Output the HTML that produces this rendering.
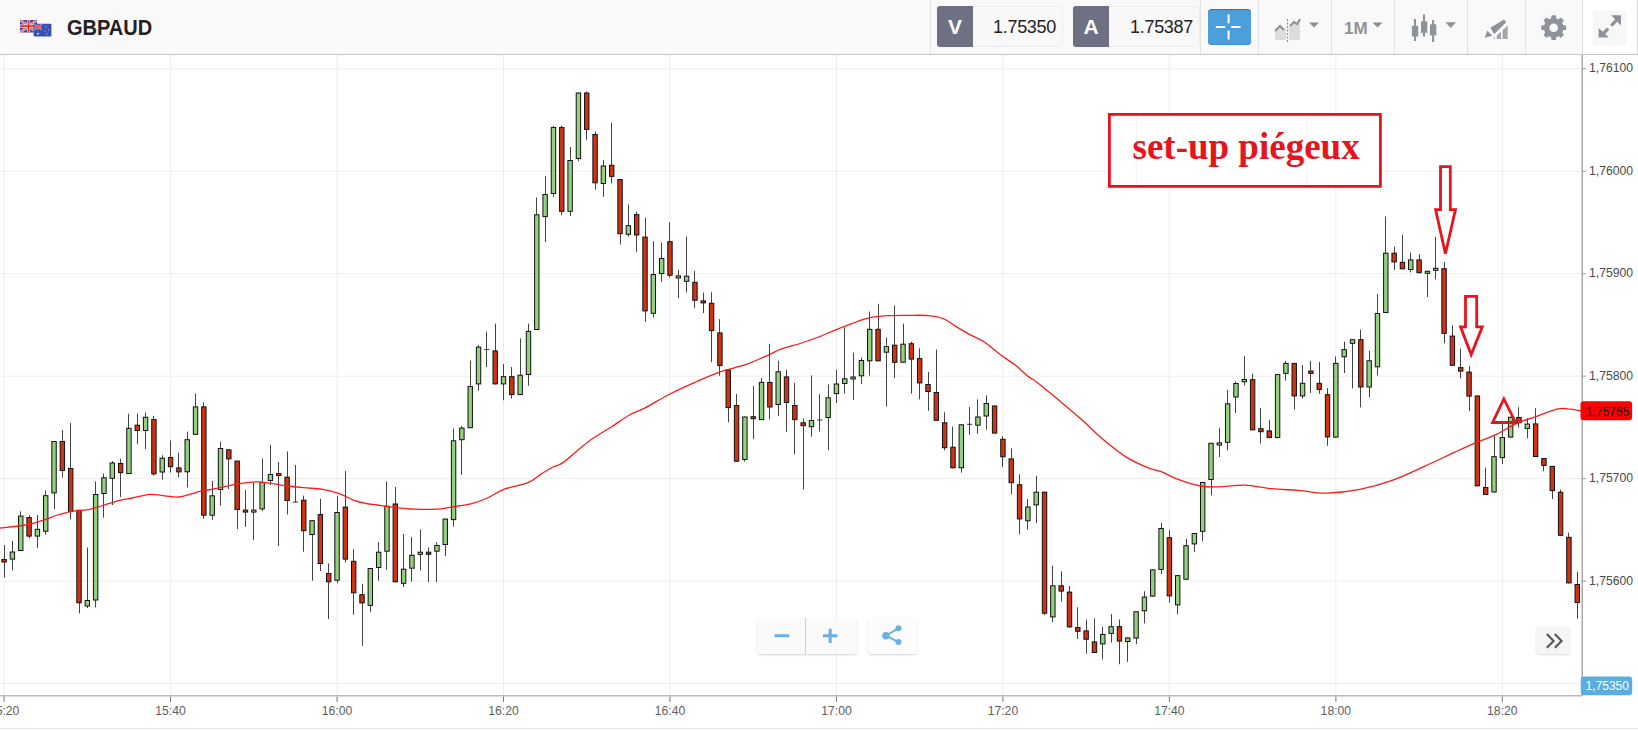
<!DOCTYPE html>
<html><head><meta charset="utf-8"><style>
html,body{margin:0;padding:0;width:1638px;height:730px;overflow:hidden;background:#fff;font-family:"Liberation Sans",sans-serif;}
#hdr{position:absolute;left:0;top:0;width:1638px;height:54px;background:#f9f9f9;border-bottom:1px solid #c6c6c6;}
.abs{position:absolute;}
.sep{position:absolute;top:0;width:1px;height:54px;background:#e2e2e2;}
#chart{position:absolute;left:0;top:0;}
.pbox{position:absolute;top:6px;height:41px;border:1px solid #ececec;border-radius:3px;background:#f8f8f8;box-sizing:border-box;}
.plet{position:absolute;left:-1px;top:-1px;width:36px;height:41px;background:#6e7184;border-radius:3px 0 0 3px;color:#fff;font-weight:bold;font-size:21px;line-height:42px;text-align:center;}
.pval{position:absolute;right:6px;top:0;line-height:40px;font-size:18px;color:#222;letter-spacing:-0.3px;}
</style></head><body>
<svg id="chart" width="1638" height="730" viewBox="0 0 1638 730" font-family="Liberation Sans, sans-serif">
<line x1="4.10" y1="55" x2="4.10" y2="695" stroke="#ededed" stroke-width="1"/>
<line x1="170.57" y1="55" x2="170.57" y2="695" stroke="#ededed" stroke-width="1"/>
<line x1="337.04" y1="55" x2="337.04" y2="695" stroke="#ededed" stroke-width="1"/>
<line x1="503.51" y1="55" x2="503.51" y2="695" stroke="#ededed" stroke-width="1"/>
<line x1="669.98" y1="55" x2="669.98" y2="695" stroke="#ededed" stroke-width="1"/>
<line x1="836.45" y1="55" x2="836.45" y2="695" stroke="#ededed" stroke-width="1"/>
<line x1="1002.92" y1="55" x2="1002.92" y2="695" stroke="#ededed" stroke-width="1"/>
<line x1="1169.39" y1="55" x2="1169.39" y2="695" stroke="#ededed" stroke-width="1"/>
<line x1="1335.86" y1="55" x2="1335.86" y2="695" stroke="#ededed" stroke-width="1"/>
<line x1="1502.33" y1="55" x2="1502.33" y2="695" stroke="#ededed" stroke-width="1"/>
<line x1="0" y1="68.80" x2="1582" y2="68.80" stroke="#ededed" stroke-width="1"/>
<line x1="0" y1="171.25" x2="1582" y2="171.25" stroke="#ededed" stroke-width="1"/>
<line x1="0" y1="273.70" x2="1582" y2="273.70" stroke="#ededed" stroke-width="1"/>
<line x1="0" y1="376.15" x2="1582" y2="376.15" stroke="#ededed" stroke-width="1"/>
<line x1="0" y1="478.60" x2="1582" y2="478.60" stroke="#ededed" stroke-width="1"/>
<line x1="0" y1="581.05" x2="1582" y2="581.05" stroke="#ededed" stroke-width="1"/>
<line x1="0" y1="683.50" x2="1582" y2="683.50" stroke="#ededed" stroke-width="1"/>
<line x1="4.50" y1="545.2" x2="4.50" y2="577.7" stroke="#444" stroke-width="1"/>
<rect x="1.90" y="559.5" width="4.4" height="2.5" fill="#cf3312" stroke="#111" stroke-width="1"/>
<line x1="12.50" y1="540.9" x2="12.50" y2="570.5" stroke="#444" stroke-width="1"/>
<rect x="10.22" y="552.0" width="4.4" height="7.1" fill="#93d17f" stroke="#111" stroke-width="1"/>
<line x1="20.50" y1="511.3" x2="20.50" y2="551.0" stroke="#444" stroke-width="1"/>
<rect x="18.55" y="516.1" width="4.4" height="34.4" fill="#93d17f" stroke="#111" stroke-width="1"/>
<line x1="29.50" y1="515.3" x2="29.50" y2="538.3" stroke="#444" stroke-width="1"/>
<rect x="26.87" y="517.5" width="4.4" height="18.6" fill="#cf3312" stroke="#111" stroke-width="1"/>
<line x1="37.50" y1="515.0" x2="37.50" y2="548.0" stroke="#444" stroke-width="1"/>
<rect x="35.19" y="529.3" width="4.4" height="6.8" fill="#93d17f" stroke="#111" stroke-width="1"/>
<line x1="45.50" y1="490.3" x2="45.50" y2="534.6" stroke="#444" stroke-width="1"/>
<rect x="43.52" y="495.7" width="4.4" height="35.5" fill="#93d17f" stroke="#111" stroke-width="1"/>
<line x1="54.50" y1="441.0" x2="54.50" y2="509.3" stroke="#444" stroke-width="1"/>
<rect x="51.84" y="441.5" width="4.4" height="51.4" fill="#93d17f" stroke="#111" stroke-width="1"/>
<line x1="62.50" y1="430.0" x2="62.50" y2="477.6" stroke="#444" stroke-width="1"/>
<rect x="60.16" y="441.5" width="4.4" height="29.0" fill="#cf3312" stroke="#111" stroke-width="1"/>
<line x1="70.50" y1="423.0" x2="70.50" y2="519.3" stroke="#444" stroke-width="1"/>
<rect x="68.49" y="468.5" width="4.4" height="43.0" fill="#cf3312" stroke="#111" stroke-width="1"/>
<line x1="79.50" y1="510.0" x2="79.50" y2="613.4" stroke="#444" stroke-width="1"/>
<rect x="76.81" y="510.3" width="4.4" height="92.5" fill="#cf3312" stroke="#111" stroke-width="1"/>
<line x1="87.50" y1="547.5" x2="87.50" y2="608.0" stroke="#444" stroke-width="1"/>
<rect x="85.13" y="600.5" width="4.4" height="5.5" fill="#93d17f" stroke="#111" stroke-width="1"/>
<line x1="95.50" y1="481.4" x2="95.50" y2="607.4" stroke="#444" stroke-width="1"/>
<rect x="93.46" y="494.5" width="4.4" height="105.5" fill="#93d17f" stroke="#111" stroke-width="1"/>
<line x1="103.50" y1="473.5" x2="103.50" y2="517.6" stroke="#444" stroke-width="1"/>
<rect x="101.78" y="477.8" width="4.4" height="15.7" fill="#93d17f" stroke="#111" stroke-width="1"/>
<line x1="112.50" y1="461.0" x2="112.50" y2="505.0" stroke="#444" stroke-width="1"/>
<rect x="110.11" y="463.0" width="4.4" height="15.3" fill="#93d17f" stroke="#111" stroke-width="1"/>
<line x1="120.50" y1="458.7" x2="120.50" y2="497.0" stroke="#444" stroke-width="1"/>
<rect x="118.43" y="463.5" width="4.4" height="9.2" fill="#cf3312" stroke="#111" stroke-width="1"/>
<line x1="128.50" y1="413.6" x2="128.50" y2="474.0" stroke="#444" stroke-width="1"/>
<rect x="126.75" y="428.3" width="4.4" height="45.2" fill="#93d17f" stroke="#111" stroke-width="1"/>
<line x1="137.50" y1="413.6" x2="137.50" y2="444.2" stroke="#444" stroke-width="1"/>
<rect x="135.08" y="425.2" width="4.4" height="5.3" fill="#cf3312" stroke="#111" stroke-width="1"/>
<line x1="145.50" y1="412.7" x2="145.50" y2="449.0" stroke="#444" stroke-width="1"/>
<rect x="143.40" y="417.3" width="4.4" height="13.2" fill="#93d17f" stroke="#111" stroke-width="1"/>
<line x1="153.50" y1="415.8" x2="153.50" y2="475.7" stroke="#444" stroke-width="1"/>
<rect x="151.72" y="419.5" width="4.4" height="54.4" fill="#cf3312" stroke="#111" stroke-width="1"/>
<line x1="162.50" y1="455.2" x2="162.50" y2="479.8" stroke="#444" stroke-width="1"/>
<rect x="160.05" y="458.2" width="4.4" height="13.8" fill="#93d17f" stroke="#111" stroke-width="1"/>
<line x1="170.50" y1="440.4" x2="170.50" y2="472.5" stroke="#444" stroke-width="1"/>
<rect x="168.37" y="457.5" width="4.4" height="9.2" fill="#cf3312" stroke="#111" stroke-width="1"/>
<line x1="178.50" y1="452.8" x2="178.50" y2="477.3" stroke="#444" stroke-width="1"/>
<rect x="176.69" y="467.9" width="4.4" height="4.0" fill="#cf3312" stroke="#111" stroke-width="1"/>
<line x1="187.50" y1="431.6" x2="187.50" y2="487.4" stroke="#444" stroke-width="1"/>
<rect x="185.02" y="439.7" width="4.4" height="32.1" fill="#93d17f" stroke="#111" stroke-width="1"/>
<line x1="195.50" y1="393.5" x2="195.50" y2="434.8" stroke="#444" stroke-width="1"/>
<rect x="193.34" y="406.9" width="4.4" height="27.4" fill="#93d17f" stroke="#111" stroke-width="1"/>
<line x1="203.50" y1="402.3" x2="203.50" y2="518.9" stroke="#444" stroke-width="1"/>
<rect x="201.66" y="406.9" width="4.4" height="108.3" fill="#cf3312" stroke="#111" stroke-width="1"/>
<line x1="212.50" y1="481.0" x2="212.50" y2="519.8" stroke="#444" stroke-width="1"/>
<rect x="209.99" y="495.8" width="4.4" height="19.4" fill="#93d17f" stroke="#111" stroke-width="1"/>
<line x1="220.50" y1="441.7" x2="220.50" y2="505.7" stroke="#444" stroke-width="1"/>
<rect x="218.31" y="448.5" width="4.4" height="41.0" fill="#93d17f" stroke="#111" stroke-width="1"/>
<line x1="228.50" y1="449.3" x2="228.50" y2="489.0" stroke="#444" stroke-width="1"/>
<rect x="226.63" y="449.8" width="4.4" height="9.1" fill="#cf3312" stroke="#111" stroke-width="1"/>
<line x1="237.50" y1="460.6" x2="237.50" y2="529.0" stroke="#444" stroke-width="1"/>
<rect x="234.96" y="461.1" width="4.4" height="48.4" fill="#cf3312" stroke="#111" stroke-width="1"/>
<line x1="245.50" y1="490.0" x2="245.50" y2="526.8" stroke="#444" stroke-width="1"/>
<rect x="243.28" y="510.1" width="4.4" height="2.0" fill="#cf3312" stroke="#111" stroke-width="1"/>
<line x1="253.50" y1="482.7" x2="253.50" y2="540.0" stroke="#444" stroke-width="1"/>
<rect x="251.60" y="510.1" width="4.4" height="2.0" fill="#93d17f" stroke="#111" stroke-width="1"/>
<line x1="262.50" y1="458.4" x2="262.50" y2="511.0" stroke="#444" stroke-width="1"/>
<rect x="259.93" y="482.5" width="4.4" height="26.4" fill="#93d17f" stroke="#111" stroke-width="1"/>
<line x1="270.50" y1="445.0" x2="270.50" y2="485.0" stroke="#444" stroke-width="1"/>
<rect x="268.25" y="474.5" width="4.4" height="6.0" fill="#93d17f" stroke="#111" stroke-width="1"/>
<line x1="278.50" y1="462.0" x2="278.50" y2="546.0" stroke="#444" stroke-width="1"/>
<rect x="276.58" y="473.5" width="4.4" height="2.0" fill="#cf3312" stroke="#111" stroke-width="1"/>
<line x1="287.50" y1="451.5" x2="287.50" y2="514.5" stroke="#444" stroke-width="1"/>
<rect x="284.90" y="477.2" width="4.4" height="23.3" fill="#cf3312" stroke="#111" stroke-width="1"/>
<line x1="295.50" y1="465.0" x2="295.50" y2="502.5" stroke="#444" stroke-width="1"/>
<line x1="292.92" y1="502.0" x2="297.92" y2="502.0" stroke="#333" stroke-width="1"/>
<line x1="303.50" y1="495.6" x2="303.50" y2="551.7" stroke="#444" stroke-width="1"/>
<rect x="301.55" y="500.2" width="4.4" height="30.5" fill="#cf3312" stroke="#111" stroke-width="1"/>
<line x1="312.50" y1="520.2" x2="312.50" y2="580.7" stroke="#444" stroke-width="1"/>
<rect x="309.87" y="520.7" width="4.4" height="13.8" fill="#93d17f" stroke="#111" stroke-width="1"/>
<line x1="320.50" y1="498.8" x2="320.50" y2="571.2" stroke="#444" stroke-width="1"/>
<rect x="318.19" y="514.5" width="4.4" height="49.0" fill="#cf3312" stroke="#111" stroke-width="1"/>
<line x1="328.50" y1="563.4" x2="328.50" y2="619.0" stroke="#444" stroke-width="1"/>
<rect x="326.52" y="573.5" width="4.4" height="8.3" fill="#cf3312" stroke="#111" stroke-width="1"/>
<line x1="337.50" y1="495.6" x2="337.50" y2="583.2" stroke="#444" stroke-width="1"/>
<rect x="334.84" y="512.5" width="4.4" height="67.7" fill="#93d17f" stroke="#111" stroke-width="1"/>
<line x1="345.50" y1="471.0" x2="345.50" y2="562.4" stroke="#444" stroke-width="1"/>
<rect x="343.16" y="507.1" width="4.4" height="52.0" fill="#cf3312" stroke="#111" stroke-width="1"/>
<line x1="353.50" y1="549.2" x2="353.50" y2="614.7" stroke="#444" stroke-width="1"/>
<rect x="351.49" y="561.3" width="4.4" height="31.5" fill="#cf3312" stroke="#111" stroke-width="1"/>
<line x1="362.50" y1="583.8" x2="362.50" y2="645.8" stroke="#444" stroke-width="1"/>
<rect x="359.81" y="594.7" width="4.4" height="8.2" fill="#cf3312" stroke="#111" stroke-width="1"/>
<line x1="370.50" y1="568.0" x2="370.50" y2="612.2" stroke="#444" stroke-width="1"/>
<rect x="368.13" y="568.5" width="4.4" height="36.9" fill="#93d17f" stroke="#111" stroke-width="1"/>
<line x1="378.50" y1="542.0" x2="378.50" y2="580.7" stroke="#444" stroke-width="1"/>
<rect x="376.46" y="552.2" width="4.4" height="15.3" fill="#93d17f" stroke="#111" stroke-width="1"/>
<line x1="386.50" y1="481.4" x2="386.50" y2="569.7" stroke="#444" stroke-width="1"/>
<rect x="384.78" y="506.2" width="4.4" height="45.0" fill="#93d17f" stroke="#111" stroke-width="1"/>
<line x1="395.50" y1="487.0" x2="395.50" y2="582.3" stroke="#444" stroke-width="1"/>
<rect x="393.10" y="504.0" width="4.4" height="77.8" fill="#cf3312" stroke="#111" stroke-width="1"/>
<line x1="403.50" y1="534.0" x2="403.50" y2="587.0" stroke="#444" stroke-width="1"/>
<rect x="401.43" y="569.2" width="4.4" height="14.1" fill="#93d17f" stroke="#111" stroke-width="1"/>
<line x1="411.50" y1="537.2" x2="411.50" y2="581.6" stroke="#444" stroke-width="1"/>
<rect x="409.75" y="555.3" width="4.4" height="12.9" fill="#93d17f" stroke="#111" stroke-width="1"/>
<line x1="420.50" y1="529.3" x2="420.50" y2="570.6" stroke="#444" stroke-width="1"/>
<rect x="418.07" y="552.2" width="4.4" height="2.1" fill="#93d17f" stroke="#111" stroke-width="1"/>
<line x1="428.50" y1="547.6" x2="428.50" y2="582.3" stroke="#444" stroke-width="1"/>
<rect x="426.40" y="552.2" width="4.4" height="2.1" fill="#cf3312" stroke="#111" stroke-width="1"/>
<line x1="436.50" y1="542.2" x2="436.50" y2="582.3" stroke="#444" stroke-width="1"/>
<rect x="434.72" y="545.5" width="4.4" height="5.7" fill="#93d17f" stroke="#111" stroke-width="1"/>
<line x1="445.50" y1="518.6" x2="445.50" y2="556.1" stroke="#444" stroke-width="1"/>
<rect x="443.05" y="519.1" width="4.4" height="25.4" fill="#93d17f" stroke="#111" stroke-width="1"/>
<line x1="453.50" y1="428.5" x2="453.50" y2="526.6" stroke="#444" stroke-width="1"/>
<rect x="451.37" y="440.8" width="4.4" height="78.8" fill="#93d17f" stroke="#111" stroke-width="1"/>
<line x1="461.50" y1="426.0" x2="461.50" y2="474.9" stroke="#444" stroke-width="1"/>
<rect x="459.69" y="428.1" width="4.4" height="11.6" fill="#93d17f" stroke="#111" stroke-width="1"/>
<line x1="470.50" y1="360.8" x2="470.50" y2="428.2" stroke="#444" stroke-width="1"/>
<rect x="468.02" y="386.5" width="4.4" height="41.2" fill="#93d17f" stroke="#111" stroke-width="1"/>
<line x1="478.50" y1="345.0" x2="478.50" y2="390.7" stroke="#444" stroke-width="1"/>
<rect x="476.34" y="347.1" width="4.4" height="36.8" fill="#93d17f" stroke="#111" stroke-width="1"/>
<line x1="486.50" y1="331.5" x2="486.50" y2="367.0" stroke="#444" stroke-width="1"/>
<line x1="484.36" y1="349.5" x2="489.36" y2="349.5" stroke="#333" stroke-width="1"/>
<line x1="495.50" y1="323.6" x2="495.50" y2="384.4" stroke="#444" stroke-width="1"/>
<rect x="492.99" y="350.9" width="4.4" height="33.0" fill="#cf3312" stroke="#111" stroke-width="1"/>
<line x1="503.50" y1="364.0" x2="503.50" y2="400.2" stroke="#444" stroke-width="1"/>
<rect x="501.31" y="376.7" width="4.4" height="7.2" fill="#93d17f" stroke="#111" stroke-width="1"/>
<line x1="511.50" y1="367.1" x2="511.50" y2="398.6" stroke="#444" stroke-width="1"/>
<rect x="509.63" y="376.7" width="4.4" height="17.9" fill="#cf3312" stroke="#111" stroke-width="1"/>
<line x1="520.50" y1="338.4" x2="520.50" y2="395.1" stroke="#444" stroke-width="1"/>
<rect x="517.96" y="375.2" width="4.4" height="19.4" fill="#93d17f" stroke="#111" stroke-width="1"/>
<line x1="528.50" y1="323.6" x2="528.50" y2="385.7" stroke="#444" stroke-width="1"/>
<rect x="526.28" y="331.4" width="4.4" height="43.1" fill="#93d17f" stroke="#111" stroke-width="1"/>
<line x1="536.50" y1="197.5" x2="536.50" y2="330.0" stroke="#444" stroke-width="1"/>
<rect x="534.60" y="214.8" width="4.4" height="114.7" fill="#93d17f" stroke="#111" stroke-width="1"/>
<line x1="545.50" y1="176.2" x2="545.50" y2="242.0" stroke="#444" stroke-width="1"/>
<rect x="542.93" y="194.5" width="4.4" height="22.1" fill="#93d17f" stroke="#111" stroke-width="1"/>
<line x1="553.50" y1="125.6" x2="553.50" y2="196.8" stroke="#444" stroke-width="1"/>
<rect x="551.25" y="127.5" width="4.4" height="66.0" fill="#93d17f" stroke="#111" stroke-width="1"/>
<line x1="561.50" y1="125.6" x2="561.50" y2="215.3" stroke="#444" stroke-width="1"/>
<rect x="559.57" y="127.5" width="4.4" height="83.8" fill="#cf3312" stroke="#111" stroke-width="1"/>
<line x1="570.50" y1="147.0" x2="570.50" y2="216.0" stroke="#444" stroke-width="1"/>
<rect x="567.90" y="160.5" width="4.4" height="50.8" fill="#93d17f" stroke="#111" stroke-width="1"/>
<line x1="578.50" y1="92.5" x2="578.50" y2="161.2" stroke="#444" stroke-width="1"/>
<rect x="576.22" y="93.0" width="4.4" height="65.5" fill="#93d17f" stroke="#111" stroke-width="1"/>
<line x1="586.50" y1="91.4" x2="586.50" y2="139.8" stroke="#444" stroke-width="1"/>
<rect x="584.54" y="93.0" width="4.4" height="36.4" fill="#cf3312" stroke="#111" stroke-width="1"/>
<line x1="595.50" y1="131.6" x2="595.50" y2="189.7" stroke="#444" stroke-width="1"/>
<rect x="592.87" y="134.5" width="4.4" height="48.3" fill="#cf3312" stroke="#111" stroke-width="1"/>
<line x1="603.50" y1="160.1" x2="603.50" y2="196.8" stroke="#444" stroke-width="1"/>
<rect x="601.19" y="166.0" width="4.4" height="17.5" fill="#93d17f" stroke="#111" stroke-width="1"/>
<line x1="611.50" y1="122.7" x2="611.50" y2="183.3" stroke="#444" stroke-width="1"/>
<rect x="609.52" y="165.3" width="4.4" height="11.1" fill="#cf3312" stroke="#111" stroke-width="1"/>
<line x1="620.50" y1="179.0" x2="620.50" y2="244.5" stroke="#444" stroke-width="1"/>
<rect x="617.84" y="179.5" width="4.4" height="54.2" fill="#cf3312" stroke="#111" stroke-width="1"/>
<line x1="628.50" y1="204.5" x2="628.50" y2="236.6" stroke="#444" stroke-width="1"/>
<rect x="626.16" y="225.7" width="4.4" height="8.6" fill="#93d17f" stroke="#111" stroke-width="1"/>
<line x1="636.50" y1="211.6" x2="636.50" y2="251.9" stroke="#444" stroke-width="1"/>
<rect x="634.49" y="214.6" width="4.4" height="20.4" fill="#cf3312" stroke="#111" stroke-width="1"/>
<line x1="645.50" y1="217.7" x2="645.50" y2="322.0" stroke="#444" stroke-width="1"/>
<rect x="642.81" y="237.1" width="4.4" height="73.8" fill="#cf3312" stroke="#111" stroke-width="1"/>
<line x1="653.50" y1="241.2" x2="653.50" y2="317.4" stroke="#444" stroke-width="1"/>
<rect x="651.13" y="274.5" width="4.4" height="38.8" fill="#93d17f" stroke="#111" stroke-width="1"/>
<line x1="661.50" y1="242.6" x2="661.50" y2="281.8" stroke="#444" stroke-width="1"/>
<rect x="659.46" y="258.5" width="4.4" height="15.0" fill="#93d17f" stroke="#111" stroke-width="1"/>
<line x1="669.50" y1="222.3" x2="669.50" y2="277.5" stroke="#444" stroke-width="1"/>
<rect x="667.78" y="241.7" width="4.4" height="33.5" fill="#cf3312" stroke="#111" stroke-width="1"/>
<line x1="678.50" y1="269.7" x2="678.50" y2="298.2" stroke="#444" stroke-width="1"/>
<rect x="676.10" y="275.9" width="4.4" height="2.0" fill="#93d17f" stroke="#111" stroke-width="1"/>
<line x1="686.50" y1="236.6" x2="686.50" y2="292.5" stroke="#444" stroke-width="1"/>
<rect x="684.43" y="276.2" width="4.4" height="5.1" fill="#93d17f" stroke="#111" stroke-width="1"/>
<line x1="694.50" y1="271.1" x2="694.50" y2="307.8" stroke="#444" stroke-width="1"/>
<rect x="692.75" y="282.3" width="4.4" height="17.9" fill="#cf3312" stroke="#111" stroke-width="1"/>
<line x1="703.50" y1="292.5" x2="703.50" y2="313.1" stroke="#444" stroke-width="1"/>
<rect x="701.07" y="300.9" width="4.4" height="2.0" fill="#cf3312" stroke="#111" stroke-width="1"/>
<line x1="711.50" y1="292.2" x2="711.50" y2="362.2" stroke="#444" stroke-width="1"/>
<rect x="709.40" y="303.3" width="4.4" height="27.3" fill="#cf3312" stroke="#111" stroke-width="1"/>
<line x1="719.50" y1="319.2" x2="719.50" y2="375.8" stroke="#444" stroke-width="1"/>
<rect x="717.72" y="332.9" width="4.4" height="32.5" fill="#cf3312" stroke="#111" stroke-width="1"/>
<line x1="728.50" y1="369.5" x2="728.50" y2="422.3" stroke="#444" stroke-width="1"/>
<rect x="726.04" y="370.0" width="4.4" height="37.6" fill="#cf3312" stroke="#111" stroke-width="1"/>
<line x1="736.50" y1="394.0" x2="736.50" y2="461.7" stroke="#444" stroke-width="1"/>
<rect x="734.37" y="405.5" width="4.4" height="55.7" fill="#cf3312" stroke="#111" stroke-width="1"/>
<line x1="744.50" y1="416.5" x2="744.50" y2="461.7" stroke="#444" stroke-width="1"/>
<rect x="742.69" y="417.0" width="4.4" height="42.5" fill="#93d17f" stroke="#111" stroke-width="1"/>
<line x1="753.50" y1="386.0" x2="753.50" y2="439.0" stroke="#444" stroke-width="1"/>
<rect x="751.01" y="416.7" width="4.4" height="2.0" fill="#cf3312" stroke="#111" stroke-width="1"/>
<line x1="761.50" y1="378.0" x2="761.50" y2="420.1" stroke="#444" stroke-width="1"/>
<rect x="759.34" y="382.4" width="4.4" height="37.2" fill="#93d17f" stroke="#111" stroke-width="1"/>
<line x1="769.50" y1="343.9" x2="769.50" y2="419.2" stroke="#444" stroke-width="1"/>
<rect x="767.66" y="382.4" width="4.4" height="24.6" fill="#cf3312" stroke="#111" stroke-width="1"/>
<line x1="778.50" y1="360.8" x2="778.50" y2="416.2" stroke="#444" stroke-width="1"/>
<rect x="775.99" y="371.8" width="4.4" height="32.7" fill="#93d17f" stroke="#111" stroke-width="1"/>
<line x1="786.50" y1="369.8" x2="786.50" y2="432.0" stroke="#444" stroke-width="1"/>
<rect x="784.31" y="376.9" width="4.4" height="25.6" fill="#cf3312" stroke="#111" stroke-width="1"/>
<line x1="794.50" y1="383.0" x2="794.50" y2="454.2" stroke="#444" stroke-width="1"/>
<rect x="792.63" y="405.5" width="4.4" height="14.1" fill="#cf3312" stroke="#111" stroke-width="1"/>
<line x1="803.50" y1="418.5" x2="803.50" y2="489.5" stroke="#444" stroke-width="1"/>
<rect x="800.96" y="422.8" width="4.4" height="2.9" fill="#cf3312" stroke="#111" stroke-width="1"/>
<line x1="811.50" y1="375.4" x2="811.50" y2="436.7" stroke="#444" stroke-width="1"/>
<rect x="809.28" y="420.5" width="4.4" height="6.2" fill="#93d17f" stroke="#111" stroke-width="1"/>
<line x1="819.50" y1="394.1" x2="819.50" y2="431.5" stroke="#444" stroke-width="1"/>
<line x1="817.30" y1="420.0" x2="822.30" y2="420.0" stroke="#333" stroke-width="1"/>
<line x1="828.50" y1="384.4" x2="828.50" y2="450.2" stroke="#444" stroke-width="1"/>
<rect x="825.93" y="397.8" width="4.4" height="19.7" fill="#93d17f" stroke="#111" stroke-width="1"/>
<line x1="836.50" y1="369.7" x2="836.50" y2="403.0" stroke="#444" stroke-width="1"/>
<rect x="834.25" y="384.0" width="4.4" height="9.6" fill="#93d17f" stroke="#111" stroke-width="1"/>
<line x1="844.50" y1="327.4" x2="844.50" y2="393.6" stroke="#444" stroke-width="1"/>
<rect x="842.57" y="378.8" width="4.4" height="4.7" fill="#93d17f" stroke="#111" stroke-width="1"/>
<line x1="853.50" y1="352.7" x2="853.50" y2="400.0" stroke="#444" stroke-width="1"/>
<rect x="850.90" y="377.0" width="4.4" height="2.0" fill="#93d17f" stroke="#111" stroke-width="1"/>
<line x1="861.50" y1="357.6" x2="861.50" y2="384.0" stroke="#444" stroke-width="1"/>
<rect x="859.22" y="360.5" width="4.4" height="15.3" fill="#93d17f" stroke="#111" stroke-width="1"/>
<line x1="869.50" y1="311.6" x2="869.50" y2="375.7" stroke="#444" stroke-width="1"/>
<rect x="867.54" y="329.3" width="4.4" height="31.5" fill="#93d17f" stroke="#111" stroke-width="1"/>
<line x1="878.50" y1="303.8" x2="878.50" y2="361.3" stroke="#444" stroke-width="1"/>
<rect x="875.87" y="329.3" width="4.4" height="31.5" fill="#cf3312" stroke="#111" stroke-width="1"/>
<line x1="886.50" y1="337.5" x2="886.50" y2="406.5" stroke="#444" stroke-width="1"/>
<rect x="884.19" y="346.6" width="4.4" height="5.6" fill="#93d17f" stroke="#111" stroke-width="1"/>
<line x1="894.50" y1="305.5" x2="894.50" y2="378.0" stroke="#444" stroke-width="1"/>
<rect x="892.51" y="345.2" width="4.4" height="17.1" fill="#cf3312" stroke="#111" stroke-width="1"/>
<line x1="903.50" y1="323.6" x2="903.50" y2="362.7" stroke="#444" stroke-width="1"/>
<rect x="900.84" y="344.2" width="4.4" height="18.0" fill="#93d17f" stroke="#111" stroke-width="1"/>
<line x1="911.50" y1="341.7" x2="911.50" y2="393.5" stroke="#444" stroke-width="1"/>
<rect x="909.16" y="343.7" width="4.4" height="15.4" fill="#cf3312" stroke="#111" stroke-width="1"/>
<line x1="919.50" y1="348.3" x2="919.50" y2="399.3" stroke="#444" stroke-width="1"/>
<rect x="917.48" y="358.6" width="4.4" height="24.3" fill="#cf3312" stroke="#111" stroke-width="1"/>
<line x1="928.50" y1="372.0" x2="928.50" y2="410.8" stroke="#444" stroke-width="1"/>
<rect x="925.81" y="384.5" width="4.4" height="7.0" fill="#cf3312" stroke="#111" stroke-width="1"/>
<line x1="936.50" y1="349.5" x2="936.50" y2="420.8" stroke="#444" stroke-width="1"/>
<rect x="934.13" y="392.5" width="4.4" height="27.8" fill="#cf3312" stroke="#111" stroke-width="1"/>
<line x1="944.50" y1="412.2" x2="944.50" y2="450.2" stroke="#444" stroke-width="1"/>
<rect x="942.46" y="422.8" width="4.4" height="24.9" fill="#cf3312" stroke="#111" stroke-width="1"/>
<line x1="952.50" y1="426.6" x2="952.50" y2="468.3" stroke="#444" stroke-width="1"/>
<rect x="950.78" y="447.2" width="4.4" height="20.6" fill="#cf3312" stroke="#111" stroke-width="1"/>
<line x1="961.50" y1="424.3" x2="961.50" y2="472.6" stroke="#444" stroke-width="1"/>
<rect x="959.10" y="424.8" width="4.4" height="43.0" fill="#93d17f" stroke="#111" stroke-width="1"/>
<line x1="969.50" y1="407.0" x2="969.50" y2="434.6" stroke="#444" stroke-width="1"/>
<line x1="967.13" y1="424.3" x2="972.13" y2="424.3" stroke="#333" stroke-width="1"/>
<line x1="977.50" y1="399.3" x2="977.50" y2="433.8" stroke="#444" stroke-width="1"/>
<rect x="975.75" y="417.0" width="4.4" height="8.2" fill="#93d17f" stroke="#111" stroke-width="1"/>
<line x1="986.50" y1="395.2" x2="986.50" y2="429.7" stroke="#444" stroke-width="1"/>
<rect x="984.07" y="403.5" width="4.4" height="12.5" fill="#93d17f" stroke="#111" stroke-width="1"/>
<line x1="994.50" y1="405.5" x2="994.50" y2="433.6" stroke="#444" stroke-width="1"/>
<rect x="992.40" y="406.0" width="4.4" height="27.1" fill="#cf3312" stroke="#111" stroke-width="1"/>
<line x1="1002.50" y1="436.2" x2="1002.50" y2="467.0" stroke="#444" stroke-width="1"/>
<rect x="1000.72" y="439.3" width="4.4" height="17.5" fill="#cf3312" stroke="#111" stroke-width="1"/>
<line x1="1011.50" y1="448.4" x2="1011.50" y2="494.3" stroke="#444" stroke-width="1"/>
<rect x="1009.04" y="458.9" width="4.4" height="23.8" fill="#cf3312" stroke="#111" stroke-width="1"/>
<line x1="1019.50" y1="474.3" x2="1019.50" y2="534.2" stroke="#444" stroke-width="1"/>
<rect x="1017.37" y="484.8" width="4.4" height="34.1" fill="#cf3312" stroke="#111" stroke-width="1"/>
<line x1="1027.50" y1="499.1" x2="1027.50" y2="529.8" stroke="#444" stroke-width="1"/>
<rect x="1025.69" y="507.0" width="4.4" height="13.8" fill="#93d17f" stroke="#111" stroke-width="1"/>
<line x1="1036.50" y1="475.8" x2="1036.50" y2="523.1" stroke="#444" stroke-width="1"/>
<rect x="1034.01" y="492.2" width="4.4" height="12.7" fill="#93d17f" stroke="#111" stroke-width="1"/>
<line x1="1044.50" y1="491.7" x2="1044.50" y2="614.9" stroke="#444" stroke-width="1"/>
<rect x="1042.34" y="492.2" width="4.4" height="121.0" fill="#cf3312" stroke="#111" stroke-width="1"/>
<line x1="1052.50" y1="565.7" x2="1052.50" y2="622.3" stroke="#444" stroke-width="1"/>
<rect x="1050.66" y="585.8" width="4.4" height="31.1" fill="#93d17f" stroke="#111" stroke-width="1"/>
<line x1="1061.50" y1="571.2" x2="1061.50" y2="601.5" stroke="#444" stroke-width="1"/>
<rect x="1058.98" y="585.8" width="4.4" height="5.3" fill="#cf3312" stroke="#111" stroke-width="1"/>
<line x1="1069.50" y1="586.0" x2="1069.50" y2="627.6" stroke="#444" stroke-width="1"/>
<rect x="1067.31" y="592.1" width="4.4" height="34.8" fill="#cf3312" stroke="#111" stroke-width="1"/>
<line x1="1077.50" y1="607.2" x2="1077.50" y2="639.0" stroke="#444" stroke-width="1"/>
<rect x="1075.63" y="627.5" width="4.4" height="3.8" fill="#cf3312" stroke="#111" stroke-width="1"/>
<line x1="1086.50" y1="619.5" x2="1086.50" y2="653.7" stroke="#444" stroke-width="1"/>
<rect x="1083.95" y="630.9" width="4.4" height="8.3" fill="#cf3312" stroke="#111" stroke-width="1"/>
<line x1="1094.50" y1="618.3" x2="1094.50" y2="653.0" stroke="#444" stroke-width="1"/>
<rect x="1092.28" y="641.9" width="4.4" height="10.6" fill="#cf3312" stroke="#111" stroke-width="1"/>
<line x1="1102.50" y1="626.5" x2="1102.50" y2="659.5" stroke="#444" stroke-width="1"/>
<rect x="1100.60" y="634.4" width="4.4" height="9.5" fill="#93d17f" stroke="#111" stroke-width="1"/>
<line x1="1111.50" y1="614.1" x2="1111.50" y2="642.5" stroke="#444" stroke-width="1"/>
<rect x="1108.93" y="626.7" width="4.4" height="6.7" fill="#93d17f" stroke="#111" stroke-width="1"/>
<line x1="1119.50" y1="619.5" x2="1119.50" y2="664.2" stroke="#444" stroke-width="1"/>
<rect x="1117.25" y="626.7" width="4.4" height="14.4" fill="#cf3312" stroke="#111" stroke-width="1"/>
<line x1="1127.50" y1="637.4" x2="1127.50" y2="661.9" stroke="#444" stroke-width="1"/>
<rect x="1125.57" y="637.9" width="4.4" height="3.6" fill="#93d17f" stroke="#111" stroke-width="1"/>
<line x1="1136.50" y1="611.3" x2="1136.50" y2="643.9" stroke="#444" stroke-width="1"/>
<rect x="1133.90" y="611.8" width="4.4" height="26.3" fill="#93d17f" stroke="#111" stroke-width="1"/>
<line x1="1144.50" y1="591.3" x2="1144.50" y2="623.4" stroke="#444" stroke-width="1"/>
<rect x="1142.22" y="597.1" width="4.4" height="13.7" fill="#93d17f" stroke="#111" stroke-width="1"/>
<line x1="1152.50" y1="569.4" x2="1152.50" y2="596.6" stroke="#444" stroke-width="1"/>
<rect x="1150.54" y="569.9" width="4.4" height="26.2" fill="#93d17f" stroke="#111" stroke-width="1"/>
<line x1="1161.50" y1="522.8" x2="1161.50" y2="574.0" stroke="#444" stroke-width="1"/>
<rect x="1158.87" y="528.5" width="4.4" height="40.9" fill="#93d17f" stroke="#111" stroke-width="1"/>
<line x1="1169.50" y1="529.9" x2="1169.50" y2="602.5" stroke="#444" stroke-width="1"/>
<rect x="1167.19" y="537.7" width="4.4" height="58.2" fill="#cf3312" stroke="#111" stroke-width="1"/>
<line x1="1177.50" y1="575.1" x2="1177.50" y2="614.3" stroke="#444" stroke-width="1"/>
<rect x="1175.51" y="575.6" width="4.4" height="29.3" fill="#93d17f" stroke="#111" stroke-width="1"/>
<line x1="1186.50" y1="538.7" x2="1186.50" y2="579.7" stroke="#444" stroke-width="1"/>
<rect x="1183.84" y="545.7" width="4.4" height="33.5" fill="#93d17f" stroke="#111" stroke-width="1"/>
<line x1="1194.50" y1="533.0" x2="1194.50" y2="552.1" stroke="#444" stroke-width="1"/>
<rect x="1192.16" y="533.5" width="4.4" height="10.4" fill="#93d17f" stroke="#111" stroke-width="1"/>
<line x1="1202.50" y1="482.0" x2="1202.50" y2="541.4" stroke="#444" stroke-width="1"/>
<rect x="1200.48" y="482.5" width="4.4" height="48.8" fill="#93d17f" stroke="#111" stroke-width="1"/>
<line x1="1211.50" y1="442.8" x2="1211.50" y2="495.4" stroke="#444" stroke-width="1"/>
<rect x="1208.81" y="443.3" width="4.4" height="36.2" fill="#93d17f" stroke="#111" stroke-width="1"/>
<line x1="1219.50" y1="428.2" x2="1219.50" y2="457.0" stroke="#444" stroke-width="1"/>
<rect x="1217.13" y="442.9" width="4.4" height="2.1" fill="#93d17f" stroke="#111" stroke-width="1"/>
<line x1="1227.50" y1="389.9" x2="1227.50" y2="450.5" stroke="#444" stroke-width="1"/>
<rect x="1225.45" y="403.8" width="4.4" height="38.5" fill="#93d17f" stroke="#111" stroke-width="1"/>
<line x1="1235.50" y1="381.4" x2="1235.50" y2="412.9" stroke="#444" stroke-width="1"/>
<rect x="1233.78" y="383.5" width="4.4" height="13.5" fill="#93d17f" stroke="#111" stroke-width="1"/>
<line x1="1244.50" y1="356.1" x2="1244.50" y2="385.3" stroke="#444" stroke-width="1"/>
<rect x="1242.10" y="379.5" width="4.4" height="2.2" fill="#93d17f" stroke="#111" stroke-width="1"/>
<line x1="1252.50" y1="373.6" x2="1252.50" y2="430.3" stroke="#444" stroke-width="1"/>
<rect x="1250.42" y="379.7" width="4.4" height="50.1" fill="#cf3312" stroke="#111" stroke-width="1"/>
<line x1="1260.50" y1="408.0" x2="1260.50" y2="443.6" stroke="#444" stroke-width="1"/>
<rect x="1258.75" y="428.7" width="4.4" height="3.0" fill="#cf3312" stroke="#111" stroke-width="1"/>
<line x1="1269.50" y1="420.1" x2="1269.50" y2="438.1" stroke="#444" stroke-width="1"/>
<rect x="1267.07" y="430.9" width="4.4" height="6.7" fill="#cf3312" stroke="#111" stroke-width="1"/>
<line x1="1277.50" y1="374.1" x2="1277.50" y2="438.1" stroke="#444" stroke-width="1"/>
<rect x="1275.40" y="374.6" width="4.4" height="63.0" fill="#93d17f" stroke="#111" stroke-width="1"/>
<line x1="1285.50" y1="361.0" x2="1285.50" y2="380.7" stroke="#444" stroke-width="1"/>
<rect x="1283.72" y="363.4" width="4.4" height="10.0" fill="#93d17f" stroke="#111" stroke-width="1"/>
<line x1="1294.50" y1="362.9" x2="1294.50" y2="409.6" stroke="#444" stroke-width="1"/>
<rect x="1292.04" y="363.4" width="4.4" height="32.5" fill="#cf3312" stroke="#111" stroke-width="1"/>
<line x1="1302.50" y1="365.1" x2="1302.50" y2="398.6" stroke="#444" stroke-width="1"/>
<rect x="1300.37" y="383.3" width="4.4" height="12.6" fill="#93d17f" stroke="#111" stroke-width="1"/>
<line x1="1310.50" y1="361.0" x2="1310.50" y2="393.2" stroke="#444" stroke-width="1"/>
<rect x="1308.69" y="371.1" width="4.4" height="2.3" fill="#cf3312" stroke="#111" stroke-width="1"/>
<line x1="1319.50" y1="362.0" x2="1319.50" y2="393.8" stroke="#444" stroke-width="1"/>
<rect x="1317.01" y="383.3" width="4.4" height="6.1" fill="#cf3312" stroke="#111" stroke-width="1"/>
<line x1="1327.50" y1="388.1" x2="1327.50" y2="445.8" stroke="#444" stroke-width="1"/>
<rect x="1325.34" y="394.7" width="4.4" height="42.2" fill="#cf3312" stroke="#111" stroke-width="1"/>
<line x1="1335.50" y1="356.5" x2="1335.50" y2="437.6" stroke="#444" stroke-width="1"/>
<rect x="1333.66" y="363.4" width="4.4" height="73.7" fill="#93d17f" stroke="#111" stroke-width="1"/>
<line x1="1344.50" y1="341.6" x2="1344.50" y2="373.0" stroke="#444" stroke-width="1"/>
<rect x="1341.98" y="349.7" width="4.4" height="7.1" fill="#93d17f" stroke="#111" stroke-width="1"/>
<line x1="1352.50" y1="339.2" x2="1352.50" y2="388.4" stroke="#444" stroke-width="1"/>
<rect x="1350.31" y="339.7" width="4.4" height="3.6" fill="#93d17f" stroke="#111" stroke-width="1"/>
<line x1="1360.50" y1="329.6" x2="1360.50" y2="407.4" stroke="#444" stroke-width="1"/>
<rect x="1358.63" y="339.7" width="4.4" height="47.3" fill="#cf3312" stroke="#111" stroke-width="1"/>
<line x1="1369.50" y1="350.7" x2="1369.50" y2="397.4" stroke="#444" stroke-width="1"/>
<rect x="1366.95" y="360.8" width="4.4" height="26.2" fill="#93d17f" stroke="#111" stroke-width="1"/>
<line x1="1377.50" y1="294.0" x2="1377.50" y2="375.4" stroke="#444" stroke-width="1"/>
<rect x="1375.28" y="313.5" width="4.4" height="53.3" fill="#93d17f" stroke="#111" stroke-width="1"/>
<line x1="1385.50" y1="216.6" x2="1385.50" y2="313.0" stroke="#444" stroke-width="1"/>
<rect x="1383.60" y="253.2" width="4.4" height="59.3" fill="#93d17f" stroke="#111" stroke-width="1"/>
<line x1="1394.50" y1="246.7" x2="1394.50" y2="270.0" stroke="#444" stroke-width="1"/>
<rect x="1391.92" y="253.2" width="4.4" height="8.7" fill="#cf3312" stroke="#111" stroke-width="1"/>
<line x1="1402.50" y1="234.7" x2="1402.50" y2="269.3" stroke="#444" stroke-width="1"/>
<rect x="1400.25" y="262.3" width="4.4" height="6.5" fill="#cf3312" stroke="#111" stroke-width="1"/>
<line x1="1410.50" y1="252.7" x2="1410.50" y2="272.3" stroke="#444" stroke-width="1"/>
<rect x="1408.57" y="259.9" width="4.4" height="9.6" fill="#93d17f" stroke="#111" stroke-width="1"/>
<line x1="1419.50" y1="254.2" x2="1419.50" y2="273.2" stroke="#444" stroke-width="1"/>
<rect x="1416.89" y="259.9" width="4.4" height="12.8" fill="#cf3312" stroke="#111" stroke-width="1"/>
<line x1="1427.50" y1="270.8" x2="1427.50" y2="297.0" stroke="#444" stroke-width="1"/>
<rect x="1425.22" y="271.3" width="4.4" height="2.0" fill="#93d17f" stroke="#111" stroke-width="1"/>
<line x1="1435.50" y1="236.8" x2="1435.50" y2="279.3" stroke="#444" stroke-width="1"/>
<rect x="1433.54" y="268.3" width="4.4" height="2.0" fill="#93d17f" stroke="#111" stroke-width="1"/>
<line x1="1444.50" y1="262.0" x2="1444.50" y2="343.2" stroke="#444" stroke-width="1"/>
<rect x="1441.87" y="268.7" width="4.4" height="64.7" fill="#cf3312" stroke="#111" stroke-width="1"/>
<line x1="1452.50" y1="325.3" x2="1452.50" y2="365.8" stroke="#444" stroke-width="1"/>
<rect x="1450.19" y="336.1" width="4.4" height="29.2" fill="#cf3312" stroke="#111" stroke-width="1"/>
<line x1="1460.50" y1="348.6" x2="1460.50" y2="378.4" stroke="#444" stroke-width="1"/>
<rect x="1458.51" y="367.6" width="4.4" height="3.5" fill="#cf3312" stroke="#111" stroke-width="1"/>
<line x1="1469.50" y1="365.8" x2="1469.50" y2="411.0" stroke="#444" stroke-width="1"/>
<rect x="1466.84" y="372.1" width="4.4" height="24.0" fill="#cf3312" stroke="#111" stroke-width="1"/>
<line x1="1477.50" y1="395.5" x2="1477.50" y2="486.3" stroke="#444" stroke-width="1"/>
<rect x="1475.16" y="396.0" width="4.4" height="89.8" fill="#cf3312" stroke="#111" stroke-width="1"/>
<line x1="1485.50" y1="467.5" x2="1485.50" y2="494.9" stroke="#444" stroke-width="1"/>
<rect x="1483.48" y="487.5" width="4.4" height="6.9" fill="#cf3312" stroke="#111" stroke-width="1"/>
<line x1="1494.50" y1="435.0" x2="1494.50" y2="492.5" stroke="#444" stroke-width="1"/>
<rect x="1491.81" y="456.7" width="4.4" height="35.3" fill="#93d17f" stroke="#111" stroke-width="1"/>
<line x1="1502.50" y1="423.0" x2="1502.50" y2="464.0" stroke="#444" stroke-width="1"/>
<rect x="1500.13" y="437.5" width="4.4" height="20.1" fill="#93d17f" stroke="#111" stroke-width="1"/>
<line x1="1510.50" y1="416.8" x2="1510.50" y2="437.6" stroke="#444" stroke-width="1"/>
<rect x="1508.45" y="417.3" width="4.4" height="19.8" fill="#93d17f" stroke="#111" stroke-width="1"/>
<line x1="1518.50" y1="407.2" x2="1518.50" y2="427.5" stroke="#444" stroke-width="1"/>
<rect x="1516.78" y="417.5" width="4.4" height="5.2" fill="#cf3312" stroke="#111" stroke-width="1"/>
<line x1="1527.50" y1="418.0" x2="1527.50" y2="438.4" stroke="#444" stroke-width="1"/>
<rect x="1525.10" y="424.1" width="4.4" height="4.3" fill="#93d17f" stroke="#111" stroke-width="1"/>
<line x1="1535.50" y1="408.2" x2="1535.50" y2="457.0" stroke="#444" stroke-width="1"/>
<rect x="1533.42" y="423.9" width="4.4" height="32.6" fill="#cf3312" stroke="#111" stroke-width="1"/>
<line x1="1543.50" y1="458.0" x2="1543.50" y2="471.2" stroke="#444" stroke-width="1"/>
<rect x="1541.75" y="458.5" width="4.4" height="6.9" fill="#cf3312" stroke="#111" stroke-width="1"/>
<line x1="1552.50" y1="465.9" x2="1552.50" y2="499.0" stroke="#444" stroke-width="1"/>
<rect x="1550.07" y="466.4" width="4.4" height="24.2" fill="#cf3312" stroke="#111" stroke-width="1"/>
<line x1="1560.50" y1="489.5" x2="1560.50" y2="535.8" stroke="#444" stroke-width="1"/>
<rect x="1558.39" y="492.2" width="4.4" height="43.1" fill="#cf3312" stroke="#111" stroke-width="1"/>
<line x1="1568.50" y1="532.7" x2="1568.50" y2="583.4" stroke="#444" stroke-width="1"/>
<rect x="1566.72" y="537.3" width="4.4" height="45.6" fill="#cf3312" stroke="#111" stroke-width="1"/>
<line x1="1577.50" y1="571.9" x2="1577.50" y2="618.7" stroke="#444" stroke-width="1"/>
<rect x="1575.04" y="584.5" width="4.4" height="18.0" fill="#cf3312" stroke="#111" stroke-width="1"/>
<path d="M0.0,528.0 C4.8,527.4 21.6,525.8 28.8,524.5 C36.0,523.2 38.4,521.8 43.2,520.2 C48.0,518.6 52.7,516.5 57.5,515.0 C62.3,513.5 66.5,512.2 71.9,511.3 C77.3,510.4 85.2,510.2 90.0,509.3 C94.8,508.4 96.0,507.5 101.0,506.0 C106.0,504.5 114.6,501.6 119.8,500.3 C125.0,499.0 127.4,499.0 132.4,498.0 C137.4,497.0 144.6,494.8 150.0,494.4 C155.4,494.0 160.2,495.4 165.0,495.8 C169.8,496.2 173.0,497.7 178.8,497.0 C184.6,496.3 195.5,492.5 199.9,491.4 C204.3,490.3 201.9,491.2 205.5,490.5 C209.1,489.8 216.1,488.4 221.3,487.4 C226.6,486.3 230.9,485.1 237.0,484.2 C243.1,483.3 250.1,481.6 258.0,481.8 C265.9,482.0 276.7,484.5 284.3,485.5 C291.9,486.5 297.4,487.1 303.8,487.7 C310.2,488.3 316.9,488.4 322.7,489.3 C328.5,490.2 333.2,491.6 338.5,493.4 C343.8,495.2 349.6,498.6 354.2,500.3 C358.8,502.0 362.2,502.7 366.0,503.5 C369.8,504.3 371.9,504.3 376.9,505.0 C381.9,505.7 389.5,506.9 395.8,507.6 C402.1,508.3 407.9,508.9 414.7,509.2 C421.5,509.5 430.9,509.5 436.8,509.2 C442.7,508.9 444.3,508.2 450.0,507.3 C455.7,506.4 464.6,505.4 470.8,503.9 C477.1,502.3 482.0,500.4 487.5,498.0 C493.0,495.6 496.9,491.9 503.7,489.3 C510.4,486.8 521.7,485.3 528.0,482.7 C534.3,480.1 537.2,476.5 541.4,473.9 C545.6,471.3 549.4,468.9 553.0,467.0 C556.6,465.1 557.5,466.6 563.3,462.4 C569.1,458.2 580.0,447.7 587.9,441.9 C595.8,436.1 603.6,431.9 610.5,427.5 C617.4,423.1 623.2,418.5 629.0,415.2 C634.8,411.9 638.4,411.3 645.2,407.8 C652.0,404.3 661.6,398.3 670.0,394.0 C678.4,389.7 687.5,385.7 695.8,382.0 C704.1,378.3 711.6,374.7 720.0,371.8 C728.4,368.9 738.8,366.9 746.2,364.4 C753.6,361.9 758.2,359.5 764.2,356.9 C770.2,354.3 776.3,350.9 782.3,348.7 C788.3,346.5 794.4,345.4 800.2,343.5 C806.0,341.6 811.6,339.7 817.3,337.5 C823.0,335.3 828.8,332.6 834.5,330.3 C840.2,328.0 846.0,325.8 851.8,323.7 C857.5,321.6 863.0,319.2 869.0,317.9 C875.0,316.5 880.6,316.0 887.5,315.6 C894.4,315.2 903.3,315.3 910.1,315.3 C916.9,315.3 922.7,315.1 928.2,315.6 C933.7,316.2 938.8,316.9 943.3,318.6 C947.8,320.4 950.8,323.4 955.3,326.1 C959.8,328.8 965.4,332.1 970.4,334.9 C975.4,337.7 980.4,339.4 985.4,342.7 C990.4,346.0 995.5,351.0 1000.5,354.8 C1005.5,358.6 1011.1,361.8 1015.6,365.3 C1020.1,368.8 1024.1,373.1 1027.6,375.9 C1031.1,378.7 1033.6,379.6 1036.6,381.9 C1039.6,384.1 1042.2,386.5 1045.7,389.4 C1049.2,392.3 1051.5,394.0 1057.7,399.2 C1063.9,404.4 1075.4,414.0 1082.8,420.6 C1090.2,427.2 1095.2,432.8 1102.3,438.8 C1109.4,444.8 1118.1,451.9 1125.5,456.6 C1132.9,461.4 1141.0,464.8 1146.9,467.3 C1152.8,469.8 1155.8,469.6 1161.1,471.7 C1166.4,473.8 1172.4,477.3 1178.9,479.7 C1185.4,482.1 1193.8,484.8 1200.3,486.0 C1206.8,487.2 1210.7,487.0 1218.1,486.9 C1225.5,486.8 1235.9,484.8 1244.8,485.1 C1253.7,485.4 1262.7,487.8 1271.6,488.7 C1280.5,489.6 1289.1,489.7 1298.3,490.4 C1307.5,491.1 1316.5,493.3 1326.8,493.1 C1337.0,492.9 1348.8,491.6 1359.8,489.4 C1370.8,487.2 1382.2,483.9 1392.9,480.1 C1403.6,476.3 1413.5,471.4 1423.8,466.7 C1434.1,462.0 1446.2,456.2 1454.8,452.2 C1463.4,448.2 1468.5,445.8 1475.4,442.9 C1482.3,440.0 1489.1,438.0 1496.0,434.7 C1502.9,431.4 1509.8,426.4 1516.7,423.3 C1523.6,420.2 1530.4,418.5 1537.3,416.1 C1544.2,413.7 1552.8,410.1 1558.0,408.9 C1563.2,407.7 1564.3,408.5 1568.3,408.9 C1572.2,409.2 1579.5,410.6 1581.7,411.0" fill="none" stroke="#ff1a1a" stroke-width="1.3"/>
<line x1="1582.25" y1="55" x2="1582.25" y2="696" stroke="#a9a9a9" stroke-width="1.5"/>
<line x1="0" y1="695.75" x2="1582" y2="695.75" stroke="#b9b9b9" stroke-width="1.6"/>
<line x1="1582" y1="68.80" x2="1586" y2="68.80" stroke="#999" stroke-width="1"/>
<text x="1589" y="72.4" font-size="12.2" fill="#4a4a4a">1,76100</text>
<line x1="1582" y1="171.25" x2="1586" y2="171.25" stroke="#999" stroke-width="1"/>
<text x="1589" y="174.8" font-size="12.2" fill="#4a4a4a">1,76000</text>
<line x1="1582" y1="273.70" x2="1586" y2="273.70" stroke="#999" stroke-width="1"/>
<text x="1589" y="277.3" font-size="12.2" fill="#4a4a4a">1,75900</text>
<line x1="1582" y1="376.15" x2="1586" y2="376.15" stroke="#999" stroke-width="1"/>
<text x="1589" y="379.8" font-size="12.2" fill="#4a4a4a">1,75800</text>
<line x1="1582" y1="478.60" x2="1586" y2="478.60" stroke="#999" stroke-width="1"/>
<text x="1589" y="482.2" font-size="12.2" fill="#4a4a4a">1,75700</text>
<line x1="1582" y1="581.05" x2="1586" y2="581.05" stroke="#999" stroke-width="1"/>
<text x="1589" y="584.6" font-size="12.2" fill="#4a4a4a">1,75600</text>
<line x1="4.10" y1="696.5" x2="4.10" y2="702" stroke="#777" stroke-width="1"/>
<text x="4.10" y="715" font-size="12.2" fill="#5e5e5e" text-anchor="middle">15:20</text>
<line x1="170.57" y1="696.5" x2="170.57" y2="702" stroke="#777" stroke-width="1"/>
<text x="170.57" y="715" font-size="12.2" fill="#5e5e5e" text-anchor="middle">15:40</text>
<line x1="337.04" y1="696.5" x2="337.04" y2="702" stroke="#777" stroke-width="1"/>
<text x="337.04" y="715" font-size="12.2" fill="#5e5e5e" text-anchor="middle">16:00</text>
<line x1="503.51" y1="696.5" x2="503.51" y2="702" stroke="#777" stroke-width="1"/>
<text x="503.51" y="715" font-size="12.2" fill="#5e5e5e" text-anchor="middle">16:20</text>
<line x1="669.98" y1="696.5" x2="669.98" y2="702" stroke="#777" stroke-width="1"/>
<text x="669.98" y="715" font-size="12.2" fill="#5e5e5e" text-anchor="middle">16:40</text>
<line x1="836.45" y1="696.5" x2="836.45" y2="702" stroke="#777" stroke-width="1"/>
<text x="836.45" y="715" font-size="12.2" fill="#5e5e5e" text-anchor="middle">17:00</text>
<line x1="1002.92" y1="696.5" x2="1002.92" y2="702" stroke="#777" stroke-width="1"/>
<text x="1002.92" y="715" font-size="12.2" fill="#5e5e5e" text-anchor="middle">17:20</text>
<line x1="1169.39" y1="696.5" x2="1169.39" y2="702" stroke="#777" stroke-width="1"/>
<text x="1169.39" y="715" font-size="12.2" fill="#5e5e5e" text-anchor="middle">17:40</text>
<line x1="1335.86" y1="696.5" x2="1335.86" y2="702" stroke="#777" stroke-width="1"/>
<text x="1335.86" y="715" font-size="12.2" fill="#5e5e5e" text-anchor="middle">18:00</text>
<line x1="1502.33" y1="696.5" x2="1502.33" y2="702" stroke="#777" stroke-width="1"/>
<text x="1502.33" y="715" font-size="12.2" fill="#5e5e5e" text-anchor="middle">18:20</text>
<line x1="0" y1="728.5" x2="1638" y2="728.5" stroke="#e6e6e6" stroke-width="1"/>
<rect x="1580.5" y="401.3" width="51.6" height="19" rx="3" fill="#ff0000"/>
<text x="1586" y="415.8" font-size="12" fill="#111">1,75765</text>
<rect x="1580.8" y="676.6" width="51.4" height="18.6" rx="3" fill="#5aaedf"/>
<text x="1585.6" y="690.3" font-size="12" fill="#fff">1,75350</text>
<rect x="1109.4" y="114.4" width="271" height="72" fill="#fff" stroke="#e8141d" stroke-width="2.8"/>
<line x1="1136.3" y1="116" x2="1136.3" y2="185" stroke="#f0f0f0" stroke-width="1"/>
<line x1="1307.2" y1="116" x2="1307.2" y2="185" stroke="#f0f0f0" stroke-width="1"/>
<text x="1132.5" y="158.5" font-family="Liberation Serif" font-weight="bold" font-size="37" fill="#e8141d">set-up piégeux</text>
<path d="M1440.5,166.6 L1450.3,166.6 L1450.3,209.6 L1455.5,209.6 L1445.4,253.8 L1435.6,209.6 L1440.5,209.6 Z" fill="none" stroke="#e8141d" stroke-width="2.8" stroke-linejoin="miter"/>
<path d="M1465.5,296.3 L1476.7,296.3 L1476.7,326.8 L1482.3,326.8 L1471.2,354.6 L1460.5,326.8 L1465.5,326.8 Z" fill="none" stroke="#e8141d" stroke-width="2.8" stroke-linejoin="miter"/>
<path d="M1503.9,399.0 L1515.6,422.5 L1492.6,422.5 Z" fill="none" stroke="#e8141d" stroke-width="2.8" stroke-linejoin="miter"/>
</svg>
<div id="hdr">
  <svg class="abs" style="left:19px;top:19px" width="34" height="19" viewBox="0 0 34 19">
    <rect x="1" y="1" width="17" height="12.5" rx="0.8" fill="#3546a8"/>
    <path d="M1,1 L18,13.5 M18,1 L1,13.5" stroke="#f3c8cc" stroke-width="2.6"/>
    <path d="M1,1 L18,13.5 M18,1 L1,13.5" stroke="#e0474f" stroke-width="1"/>
    <path d="M9.5,1 V13.5 M1,7.2 H18" stroke="#f6e0e2" stroke-width="3.2"/>
    <path d="M9.5,1 V13.5 M1,7.2 H18" stroke="#e8302f" stroke-width="1.8"/>
    <rect x="14.6" y="4.8" width="17.8" height="12.8" rx="0.8" fill="#3a4fb0"/>
    <path d="M15,5.2 L23,11 M23,5.2 L15,11" stroke="#c98aa8" stroke-width="1.4"/>
    <path d="M19,5.2 V11 M15,8.1 H23" stroke="#e85c66" stroke-width="1.6"/>
    <circle cx="19" cy="14.7" r="0.9" fill="#e8ecf8"/>
    <circle cx="27" cy="8" r="0.6" fill="#c8d0f0"/>
    <circle cx="29.5" cy="10.8" r="0.6" fill="#c8d0f0"/>
    <circle cx="26" cy="12" r="0.5" fill="#c8d0f0"/>
    <circle cx="28" cy="14.8" r="0.6" fill="#c8d0f0"/>
  </svg>
  <div class="abs" style="left:67px;top:17px;font-size:20px;line-height:23px;font-weight:bold;color:#222;transform:scaleY(1.09);transform-origin:0 100%;">GBPAUD</div>

  <div class="sep" style="left:930px"></div>
  <div class="pbox" style="left:937px;width:126px;"><div class="plet">V</div><div class="pval">1.75350</div></div>
  <div class="pbox" style="left:1073px;width:127px;"><div class="plet">A</div><div class="pval">1.75387</div></div>
  <div class="sep" style="left:1200px"></div>
  <div class="abs" style="left:1208px;top:9px;width:43px;height:36px;background:#4d9fdc;border-radius:4px;box-shadow:inset 0 1px 0 #2f78b5, inset 0 -1px 0 #3f8fcc;"></div>
  <svg class="abs" style="left:1208px;top:9px" width="43" height="36" viewBox="0 0 43 36">
    <path d="M7.8,18.1 H17.1 M23.3,18.1 H32.6 M20.6,5.6 V14.2 M20.6,21.6 V30.4" stroke="#fff" stroke-width="2"/>
  </svg>
  <div class="sep" style="left:1258px"></div>
  <svg class="abs" style="left:1270px;top:14px" width="55" height="30" viewBox="0 0 55 30">
    <path d="M5,26 V17 L10,12 L14,16 L16,14 V26 Z" fill="#dcdcdc"/>
    <path d="M19,26 V13 L24,9 L27,11 L30,6 V26 Z" fill="#dcdcdc"/>
    <path d="M5,17 L10,12 L14,16" stroke="#8b8e94" stroke-width="2" fill="none"/>
    <path d="M20,12 L24,8 L27,10 L30,5" stroke="#8b8e94" stroke-width="2" fill="none"/>
    <path d="M17.5,5 V29" stroke="#8b8e94" stroke-width="1.2" stroke-dasharray="2,1.5"/>
    <path d="M39,8.5 H49 L44,13.5 Z" fill="#8b8e94"/>
  </svg>
  <div class="sep" style="left:1331px"></div>
  <div class="abs" style="left:1344px;top:18.5px;font-size:17px;font-weight:bold;color:#8f9297;">1M</div>
  <svg class="abs" style="left:1370px;top:20px" width="16" height="10" viewBox="0 0 16 10">
    <path d="M2.5,2.5 H12.5 L7.5,7.5 Z" fill="#8b8e94"/>
  </svg>
  <div class="sep" style="left:1394px"></div>
  <svg class="abs" style="left:1405px;top:12px" width="55" height="32" viewBox="0 0 55 32">
    <path d="M10,6.9 V28.9 M19,2.5 V24.5 M28.1,8 V30" stroke="#8e9299" stroke-width="2.1"/>
    <rect x="6.9" y="13.9" width="6.3" height="10.6" fill="#8e9299"/>
    <rect x="16" y="9.3" width="6.3" height="11.5" fill="#8e9299"/>
    <rect x="25" y="12.4" width="6.3" height="11" fill="#8e9299"/>
    <path d="M40.4,10.2 H51 L45.7,16.1 Z" fill="#8e9299"/>
  </svg>
  <div class="sep" style="left:1467px"></div>
  <svg class="abs" style="left:1482px;top:17px" width="30" height="25" viewBox="0 0 30 25">
    <path d="M11,22.1 L25.7,8.6 V22.1 Z" fill="#a3a6ab"/>
    <path d="M13.9,6 V23 M19.8,6 V23" stroke="#f9f9f9" stroke-width="1.6"/>
    <path d="M7.6,10.5 L22,1.8 L25.4,4.9 L12,18.2 Z" fill="#8e9299" stroke="#f9f9f9" stroke-width="1.3" stroke-linejoin="round"/>
    <path d="M5.4,13.2 L11,18.6 L2.6,20.8 Z" fill="#8e9299"/>
    <path d="M4.6,12.2 L12,19.4" stroke="#f9f9f9" stroke-width="1.2"/>
  </svg>
  <div class="sep" style="left:1525px"></div>
  <svg class="abs" style="left:1538px;top:13px" width="32" height="30" viewBox="0 0 32 30">
    <g transform="translate(15.7,14.7)" fill="#8e9299">
      <circle r="9.8"/>
      <rect x="-2.4" y="-12.4" width="4.8" height="6" rx="1.2" transform="rotate(0)"/><rect x="-2.4" y="-12.4" width="4.8" height="6" rx="1.2" transform="rotate(45)"/><rect x="-2.4" y="-12.4" width="4.8" height="6" rx="1.2" transform="rotate(90)"/><rect x="-2.4" y="-12.4" width="4.8" height="6" rx="1.2" transform="rotate(135)"/><rect x="-2.4" y="-12.4" width="4.8" height="6" rx="1.2" transform="rotate(180)"/><rect x="-2.4" y="-12.4" width="4.8" height="6" rx="1.2" transform="rotate(225)"/><rect x="-2.4" y="-12.4" width="4.8" height="6" rx="1.2" transform="rotate(270)"/><rect x="-2.4" y="-12.4" width="4.8" height="6" rx="1.2" transform="rotate(315)"/>
      <circle r="4.3" fill="#f9f9f9"/>
    </g>
  </svg>
  <div class="sep" style="left:1582px"></div>
  <div class="abs" style="left:1583px;top:0;width:54px;height:54px;background:#fff;"></div>
  <div class="abs" style="left:1637px;top:0;width:1px;height:54px;background:#d8d8d8;"></div>
  <div class="abs" style="left:1593px;top:11px;width:34px;height:34px;background:#f7f7f7;"></div>
  <svg class="abs" style="left:1593px;top:11px" width="34" height="34" viewBox="0 0 34 34">
    <path d="M25,7.6 L18.2,14.6 M8.6,24 L15.2,17.6" stroke="#8e9299" stroke-width="3.3"/>
    <path d="M18.1,4.2 H28 V14.4 Z" fill="#8e9299"/>
    <path d="M5.6,17.1 V26.6 H15.8 Z" fill="#8e9299"/>
  </svg>
</div>

<!-- zoom buttons -->
<div class="abs" style="left:757px;top:618px;width:100px;height:36px;background:rgba(250,250,250,0.92);border-radius:4px;box-shadow:0 1px 2px rgba(0,0,0,0.18);"></div>
<div class="abs" style="left:805px;top:618px;width:1px;height:36px;background:#d0d0d0;"></div>
<svg class="abs" style="left:757px;top:618px" width="100" height="36" viewBox="0 0 100 36">
  <path d="M17.6,17.7 H32.2" stroke="#6cb1de" stroke-width="3"/>
  <path d="M66,17.7 H80.4 M73.2,10.7 V25" stroke="#6cb1de" stroke-width="3"/>
</svg>
<div class="abs" style="left:868px;top:618px;width:49px;height:36px;background:rgba(252,252,252,0.95);border-radius:4px;box-shadow:0 1px 2px rgba(0,0,0,0.18);"></div>
<svg class="abs" style="left:868px;top:618px" width="49" height="36" viewBox="0 0 49 36">
  <path d="M30.5,10.3 L17.9,17.7 L30.5,24.1" stroke="#6cb1de" stroke-width="2" fill="none"/>
  <circle cx="30.5" cy="10.3" r="3" fill="#6cb1de"/>
  <circle cx="17.9" cy="17.7" r="3.7" fill="#6cb1de"/>
  <circle cx="30.5" cy="24.1" r="3" fill="#6cb1de"/>
</svg>
<div class="abs" style="left:1536px;top:626px;width:34px;height:28px;background:#f6f6f6;border-radius:4px;box-shadow:0 1px 2px rgba(0,0,0,0.15);"></div>
<svg class="abs" style="left:1536px;top:626px" width="34" height="28" viewBox="0 0 34 28">
  <path d="M10.8,8 L17.6,14.9 L10.8,21.8 M18.8,8 L25.6,14.9 L18.8,21.8" stroke="#555" stroke-width="2.1" fill="none"/>
</svg>
</body></html>
